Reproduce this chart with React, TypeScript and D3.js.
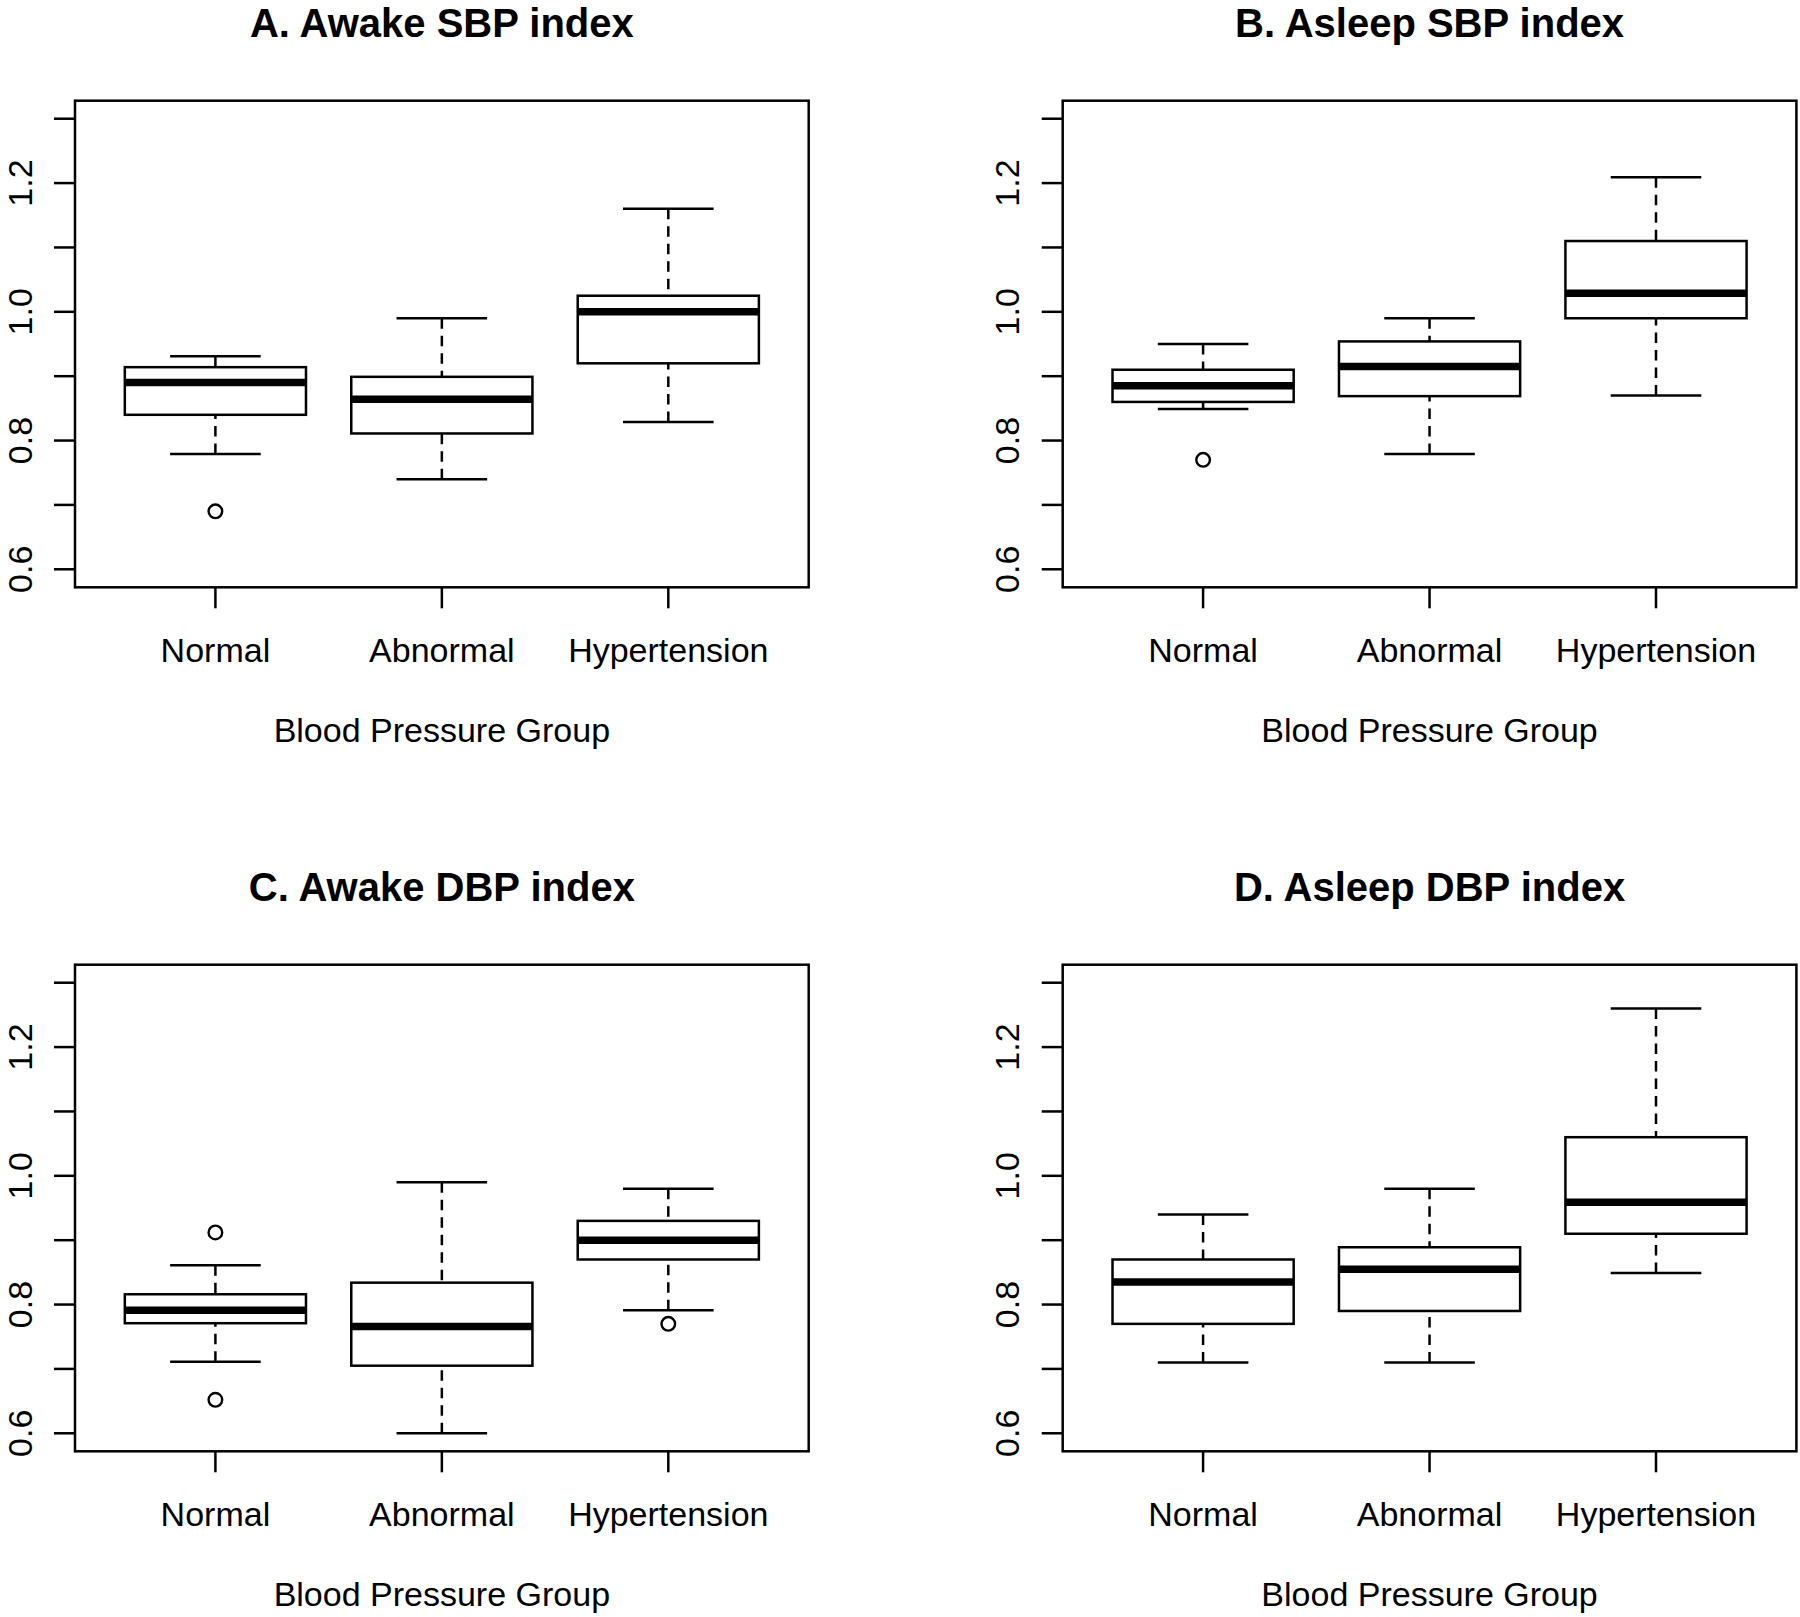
import React from "react";
import * as d3 from "d3";

const categories = ["Normal", "Abnormal", "Hypertension"];
const panelTitles = ["A. Awake SBP index", "B. Asleep SBP index", "C. Awake DBP index", "D. Asleep DBP index"];
const xAxisTitle = "Blood Pressure Group";

const yTicks = [0.6, 0.7, 0.8, 0.9, 1.0, 1.1, 1.2, 1.3];
const yTickLabels = ["0.6", "", "0.8", "", "1.0", "", "1.2", ""];
const yLimits = [0.6, 1.3];

// [lower whisker, Q1, median, Q3, upper whisker] per category
const awakeSBPStats = [
  [0.779, 0.84, 0.89, 0.914, 0.931],
  [0.74, 0.811, 0.864, 0.899, 0.99],
  [0.829, 0.92, 1.0, 1.025, 1.16],
];
const awakeSBPOutliers = [[0.69], [], []];

const asleepSBPStats = [
  [0.849, 0.86, 0.885, 0.91, 0.95],
  [0.779, 0.869, 0.915, 0.954, 0.99],
  [0.87, 0.99, 1.029, 1.11, 1.209],
];
const asleepSBPOutliers = [[0.77], [], []];

const awakeDBPStats = [
  [0.711, 0.771, 0.791, 0.816, 0.861],
  [0.6, 0.705, 0.766, 0.834, 0.99],
  [0.791, 0.87, 0.9, 0.93, 0.98],
];
const awakeDBPOutliers = [[0.652, 0.912], [], [0.77]];

const asleepDBPStats = [
  [0.71, 0.77, 0.835, 0.87, 0.94],
  [0.71, 0.79, 0.855, 0.889, 0.98],
  [0.849, 0.91, 0.959, 1.06, 1.26],
];
const asleepDBPOutliers = [[], [], []];

const FONT = "'Liberation Sans', Arial, Helvetica, sans-serif";

type PanelProps = {
  title: string;
  stats: number[][];
  outliers: number[][];
  ox: number;
  oy: number;
};

function Panel({ title, stats, outliers, ox, oy }: PanelProps) {
  const left = 75;
  const right = 808.7;
  const top = 100.7;
  const bottom = 587.3;
  const n = categories.length;
  const xPad = n * 0.04; // R's 4% axis extension on [0.5, n+0.5]
  const x = d3.scaleLinear().domain([0.5 - xPad, n + 0.5 + xPad]).range([left, right]);
  const ySpan = yLimits[1] - yLimits[0];
  const y = d3
    .scaleLinear()
    .domain([yLimits[0] - ySpan * 0.04, yLimits[1] + ySpan * 0.04])
    .range([bottom, top]);
  const boxHalf = 0.4;
  const stapleHalf = 0.2;
  const lw = 2.5;
  const tickLen = 21;
  const cx = (left + right) / 2;

  return (
    <g transform={`translate(${ox},${oy})`}>
      <text
        x={cx}
        y={36.5}
        textAnchor="middle"
        fontFamily={FONT}
        fontWeight="bold"
        fontSize={40}
        fill="#000"
      >
        {title}
      </text>
      {stats.map((s, i) => {
        const c = i + 1;
        const xc = x(c);
        const [lo, q1, med, q3, hi] = s;
        return (
          <g key={i}>
            <line x1={xc} x2={xc} y1={y(hi)} y2={y(q3)} stroke="#000" strokeWidth={lw} strokeDasharray="10.5 7" />
            <line x1={xc} x2={xc} y1={y(lo)} y2={y(q1)} stroke="#000" strokeWidth={lw} strokeDasharray="10.5 7" />
            <line x1={x(c - stapleHalf)} x2={x(c + stapleHalf)} y1={y(hi)} y2={y(hi)} stroke="#000" strokeWidth={lw} />
            <line x1={x(c - stapleHalf)} x2={x(c + stapleHalf)} y1={y(lo)} y2={y(lo)} stroke="#000" strokeWidth={lw} />
            <rect
              x={x(c - boxHalf)}
              y={y(q3)}
              width={x(c + boxHalf) - x(c - boxHalf)}
              height={y(q1) - y(q3)}
              fill="#fff"
              stroke="#000"
              strokeWidth={lw}
            />
            <line x1={x(c - boxHalf)} x2={x(c + boxHalf)} y1={y(med)} y2={y(med)} stroke="#000" strokeWidth={7.5} />
            {outliers[i].map((o, j) => (
              <circle key={j} cx={xc} cy={y(o)} r={6.8} fill="none" stroke="#000" strokeWidth={2.4} />
            ))}
          </g>
        );
      })}
      <rect x={left} y={top} width={right - left} height={bottom - top} fill="none" stroke="#000" strokeWidth={lw} />
      {yTicks.map((t, i) => (
        <g key={i}>
          <line x1={left - tickLen} x2={left} y1={y(t)} y2={y(t)} stroke="#000" strokeWidth={lw} />
          {yTickLabels[i] ? (
            <text
              transform={`translate(${left - 43.5},${y(t)}) rotate(-90)`}
              textAnchor="middle"
              fontFamily={FONT}
              fontSize={34}
              fill="#000"
            >
              {yTickLabels[i]}
            </text>
          ) : null}
        </g>
      ))}
      {categories.map((cat, i) => (
        <g key={cat}>
          <line x1={x(i + 1)} x2={x(i + 1)} y1={bottom} y2={bottom + tickLen} stroke="#000" strokeWidth={lw} />
          <text x={x(i + 1)} y={661.7} textAnchor="middle" fontFamily={FONT} fontSize={34} fill="#000">
            {cat}
          </text>
        </g>
      ))}
      <text x={cx} y={742} textAnchor="middle" fontFamily={FONT} fontSize={34} fill="#000">
        {xAxisTitle}
      </text>
    </g>
  );
}

export default function App() {
  const panels = [
    { stats: awakeSBPStats, outliers: awakeSBPOutliers, ox: 0, oy: 0 },
    { stats: asleepSBPStats, outliers: asleepSBPOutliers, ox: 987.7, oy: 0 },
    { stats: awakeDBPStats, outliers: awakeDBPOutliers, ox: 0, oy: 864 },
    { stats: asleepDBPStats, outliers: asleepDBPOutliers, ox: 987.7, oy: 864 },
  ];
  return (
    <svg
      width={1800}
      height={1617}
      viewBox="0 0 1800 1617"
      style={{ position: "absolute", left: 0, top: 0, background: "#fff" }}
    >
      <rect x={0} y={0} width={1800} height={1617} fill="#fff" />
      {panels.map((p, i) => (
        <Panel key={i} title={panelTitles[i]} stats={p.stats} outliers={p.outliers} ox={p.ox} oy={p.oy} />
      ))}
    </svg>
  );
}
